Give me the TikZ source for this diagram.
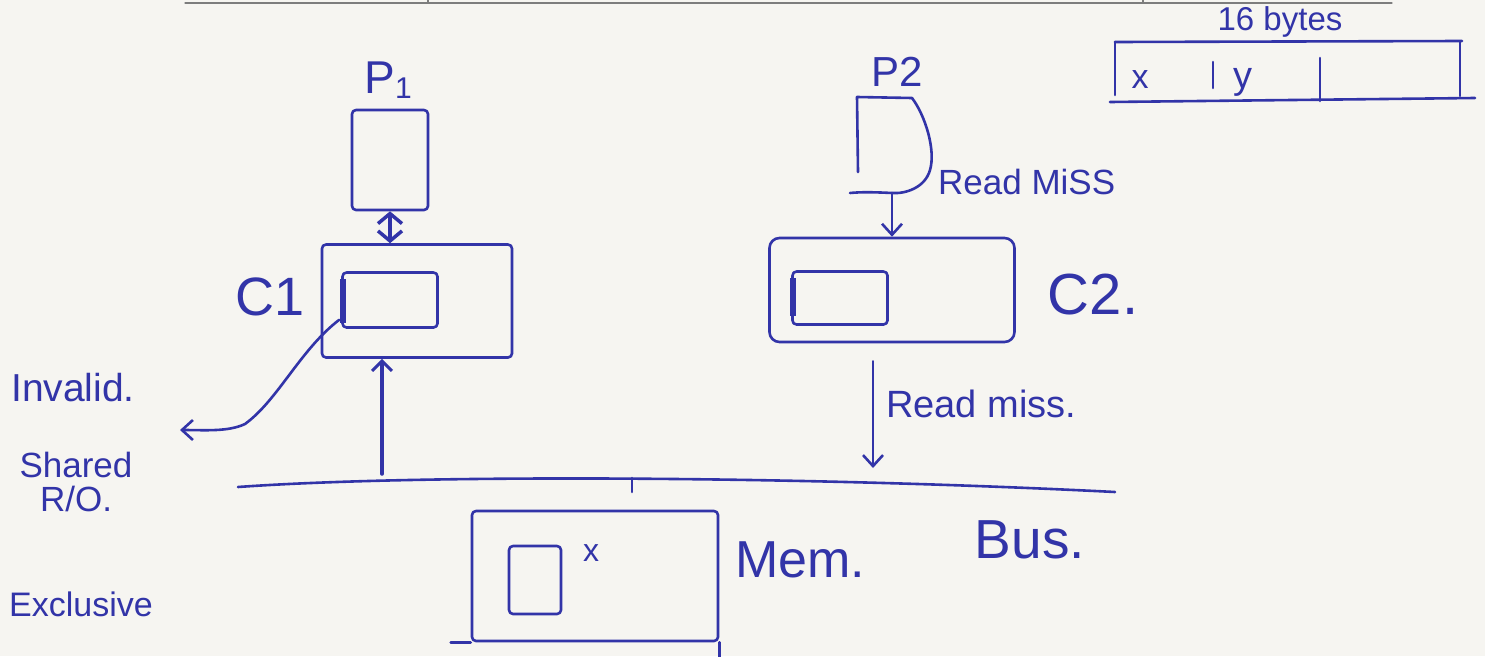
\documentclass[tikz,border=0pt]{standalone}
\usepackage{fontspec}
\setmainfont{Liberation Sans}
\usetikzlibrary{arrows.meta,calc}
\definecolor{paper}{RGB}{246,245,241}
\definecolor{ink}{RGB}{50,52,168}
\definecolor{rulegray}{RGB}{125,125,125}
\newcommand\inksize[1]{\fontsize{#1}{#1}\selectfont}
\begin{document}
\begin{tikzpicture}[x=1pt,y=-1pt,line cap=round,line join=round,
  pen/.style={draw=ink,line width=2.6pt},
  box/.style={pen,rectangle,inner sep=0pt,rounded corners=4pt},
  lbl/.style={text=ink,inner sep=0pt},
  barb/.style={pen,-{Straight Barb[length=11pt,width=20pt,line width=2.6pt]}},
  heavy/.style={draw=ink,line width=4pt,
    {Straight Barb[length=10pt,width=24pt,line width=3.5pt]}-{Straight Barb[length=10pt,width=24pt,line width=3.5pt]}},
  thickmark/.style={draw=ink,line width=6pt,line cap=butt}]
\fill[paper] (0,0) rectangle (1485,656);
\useasboundingbox (0,0) rectangle (1485,656);

% ruled edge of the sheet
\draw[rulegray,line width=1.2pt] (185,3) -- (1392,3);
\draw[rulegray,line width=1.2pt] (428,0) -- (428,3) (1143,0) -- (1143,3);

% processor 1 and its cache
\node[box,minimum width=76pt,minimum height=100pt] (p1) at (390,160) {};
\node[lbl,font=\inksize{46}] (p1lbl) at (388,80) {P\raisebox{-0.1em}{\inksize{30}1}};
\node[box,minimum width=190pt,minimum height=113pt] (c1) at (417,301) {};
\node[box,minimum width=95pt,minimum height=55pt] (c1in) at (390,300) {};
\draw[thickmark] ($(c1in.north west)+(2,8)$) -- ($(c1in.south west)+(2,-6)$);
\node[lbl,font=\inksize{54}] (c1lbl) at (270,297) {C1};
\draw[heavy] (p1.south) -- (c1.north -| p1.south);

% processor 2 and its cache
\coordinate (p2s) at (892,193);
\draw[pen] (858,172) -- (857,97) -- (912,98)
  .. controls (925,115) and (936,150) .. (930,170)
  .. controls (925,188) and (905,194) .. (p2s)
  .. controls (872,192) and (860,192) .. (850,193);
\node[lbl,font=\inksize{42}] (p2lbl) at (897,72) {P2};
\node[box,minimum width=245pt,minimum height=104pt,rounded corners=10pt] (c2) at (892,290) {};
\node[box,minimum width=95pt,minimum height=53pt] (c2in) at (840,298) {};
\draw[thickmark] ($(c2in.north west)+(2,8)$) -- ($(c2in.south west)+(2,-10)$);
\node[lbl,font=\inksize{58}] (c2lbl) at (1093,295) {C2.};
\draw[barb] (p2s) -- (p2s |- c2.north);
\node[lbl,font=\inksize{35},anchor=west] (rm1) at (938,182) {Read MiSS};

% bus
\coordinate (busL) at (238,487);
\coordinate (busR) at (1115,492);
\draw[pen] (busL) .. controls (420,474) and (800,476) .. (busR);
\draw[pen] (632,478) -- (632,492);
\node[lbl,font=\inksize{55}] (buslbl) at (1030,540) {Bus.};

% traffic between caches and bus
\coordinate (b1) at (382,474);
\draw[draw=ink,line width=3.5pt,-{Straight Barb[length=10pt,width=20pt,line width=3pt]}] (b1) -- (b1 |- c1.south);
\coordinate (b2) at (873,468);
\draw[barb] ($(b2 |- c2.south)+(0,18)$) -- (b2);
\node[lbl,font=\inksize{38},anchor=west] (rm2) at (886,404) {Read miss.};

% state leaving the cache line
\coordinate (inv) at (180,430);
\draw[barb] ($(c1in.south west)+(-2,-9)$) .. controls (300,350) and (278,400) .. (245,424)
  .. controls (228,432) and (205,430) .. (inv);

% line states
\node[lbl,font=\inksize{39}] (st1) at (73,388) {Invalid.};
\node[lbl,font=\inksize{35},align=center] (st2) at (76,482) {Shared\\[-1pt]R/O.};
\node[lbl,font=\inksize{34}] (st3) at (81,604) {Exclusive};

% memory
\node[box,minimum width=246pt,minimum height=130pt] (mem) at (595,576) {};
\draw[pen] (mem.south west) -- ++(-20,0);
\draw[pen] (mem.south east) -- ++(0,16);
\node[box,minimum width=52pt,minimum height=68pt] (cell) at (535,580) {};
\node[lbl,font=\inksize{32}] (xlbl) at (591,553) {x};
\node[lbl,font=\inksize{52}] (memlbl) at (800,560) {Mem.};

% a 16-byte cache line
\node[lbl,font=\inksize{33}] (bytes) at (1280,22) {16 bytes};
\draw[pen] (1115,42) -- (1462,41);
\draw[pen] (1115,42) -- (1115,95);
\draw[pen] (1460,42) -- (1460,96);
\draw[pen] (1110,102) -- (1475,98);
\draw[pen] (1213,62) -- (1213,88);
\draw[pen] (1320,58) -- (1320,101);
\node[lbl,font=\inksize{34}] (xw) at (1140,80) {x};
\node[lbl,font=\inksize{38}] (yw) at (1243,82) {y};
\end{tikzpicture}
\end{document}
